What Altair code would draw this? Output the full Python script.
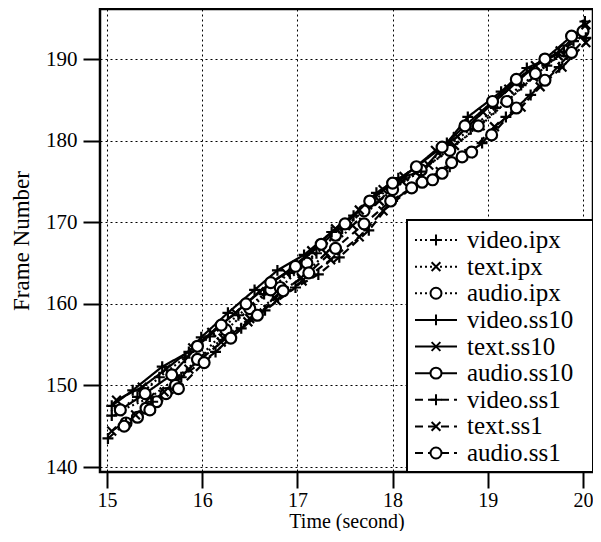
import altair as alt
import pandas as pd

series_order = ["video.ipx", "text.ipx", "audio.ipx",
                "video.ss10", "text.ss10", "audio.ss10",
                "video.ss1", "text.ss1", "audio.ss1"]

t_video_ss10 = [15.05, 15.27, 15.58, 15.86, 15.99, 16.27, 16.55, 16.79, 17.07, 17.36, 17.59, 17.83, 18.06, 18.3, 18.57, 18.79, 19.14, 19.41, 19.8, 20.02]
f_video_ss10 = [147.5, 149.4, 152.3, 154.1, 155.9, 158.9, 161.7, 164.1, 166.0, 168.8, 170.8, 173.6, 175.4, 176.2, 179.7, 182.9, 186.0, 188.9, 190.9, 194.6]

t_text_ss10 = [15.1, 15.37, 15.62, 15.9, 16.1, 16.35, 16.6, 16.88, 17.15, 17.4, 17.65, 17.9, 18.12, 18.45, 18.68, 18.95, 19.22, 19.5, 19.76, 20.03]
f_text_ss10 = [148.2, 149.8, 152.0, 154.6, 156.5, 158.9, 161.5, 163.8, 166.5, 169.2, 171.5, 174.0, 175.6, 178.8, 180.5, 183.5, 186.3, 189.2, 191.0, 194.2]

t_audio_ss10 = [15.14, 15.4, 15.68, 15.95, 16.2, 16.46, 16.72, 16.98, 17.25, 17.5, 17.76, 18.0, 18.25, 18.52, 18.76, 19.05, 19.3, 19.6, 19.88]
f_audio_ss10 = [147.0, 149.0, 151.3, 154.8, 157.4, 160.0, 162.6, 164.6, 167.3, 169.8, 172.6, 174.8, 176.8, 179.2, 181.8, 184.8, 187.5, 190.0, 192.8]

t_video_ipx = [15.05, 15.32, 15.55, 15.82, 16.08, 16.38, 16.65, 16.92, 17.2, 17.47, 17.73, 18.0, 18.28, 18.5, 18.82, 19.08, 19.35, 19.62, 19.9]
f_video_ipx = [146.3, 148.6, 151.0, 153.4, 156.0, 158.6, 161.2, 163.8, 166.2, 169.2, 171.8, 174.6, 176.0, 178.6, 181.4, 184.0, 186.8, 189.2, 192.2]

t_text_ipx = [15.12, 15.45, 15.72, 15.98, 16.22, 16.5, 16.76, 17.04, 17.3, 17.58, 17.86, 18.1, 18.38, 18.65, 18.92, 19.2, 19.48, 19.74, 20.0]
f_text_ipx = [146.8, 148.5, 150.8, 153.4, 155.8, 158.2, 160.8, 163.2, 166.2, 169.6, 172.6, 175.0, 177.0, 179.4, 181.8, 184.8, 187.8, 190.4, 193.0]

t_audio_ipx = [15.2, 15.32, 15.41, 15.52, 15.62, 15.72, 15.95, 16.25, 16.5, 16.72, 16.82, 17.1, 17.4, 17.7, 18.0, 18.3, 18.6, 18.9, 19.2, 19.5, 19.8, 20.0]
f_audio_ipx = [145.4, 146.1, 147.2, 148.0, 149.0, 150.0, 153.2, 156.8, 159.4, 161.7, 162.0, 165.0, 168.4, 171.4, 174.0, 176.4, 178.8, 181.8, 184.8, 188.2, 191.0, 193.4]

t_video_ss1 = [15.01, 15.2, 15.48, 15.78, 16.14, 16.41, 16.66, 16.98, 17.22, 17.44, 17.75, 18.0, 18.3, 18.6, 18.94, 19.19, 19.45, 19.75, 20.03]
f_video_ss1 = [143.5, 145.4, 148.0, 151.0, 154.1, 157.0, 159.2, 162.0, 163.6, 165.7, 169.0, 172.6, 175.0, 176.8, 179.7, 182.9, 185.6, 189.0, 192.6]

t_text_ss1 = [15.05, 15.3, 15.6, 15.86, 16.2, 16.48, 16.78, 17.05, 17.35, 17.65, 17.9, 18.2, 18.5, 18.8, 19.07, 19.35, 19.55, 19.78, 20.03]
f_text_ss1 = [144.4, 146.4, 149.2, 152.0, 155.3, 157.8, 160.4, 162.8, 165.4, 168.2, 171.4, 174.2, 176.2, 178.4, 181.7, 184.1, 186.6, 189.0, 192.0]

t_audio_ss1 = [15.18, 15.45, 15.75, 16.02, 16.3, 16.58, 16.85, 17.12, 17.4, 17.7, 17.98, 18.2, 18.31, 18.42, 18.52, 18.62, 18.73, 18.83, 19.04, 19.3, 19.6, 19.88]
f_audio_ss1 = [145.0, 147.0, 149.6, 152.8, 155.8, 158.6, 161.6, 163.8, 166.8, 169.8, 172.6, 174.2, 174.9, 175.2, 176.0, 177.3, 178.0, 178.6, 180.7, 184.0, 187.4, 190.8]

x_ticks = [15, 16, 17, 18, 19, 20]
y_ticks = [140, 150, 160, 170, 180, 190]

data_map = {
    "video.ipx": (t_video_ipx, f_video_ipx),
    "text.ipx": (t_text_ipx, f_text_ipx),
    "audio.ipx": (t_audio_ipx, f_audio_ipx),
    "video.ss10": (t_video_ss10, f_video_ss10),
    "text.ss10": (t_text_ss10, f_text_ss10),
    "audio.ss10": (t_audio_ss10, f_audio_ss10),
    "video.ss1": (t_video_ss1, f_video_ss1),
    "text.ss1": (t_text_ss1, f_text_ss1),
    "audio.ss1": (t_audio_ss1, f_audio_ss1),
}

rows = []
for name in series_order:
    ts, fs = data_map[name]
    media, method = name.split(".")
    for t, f in zip(ts, fs):
        rows.append({"series": name, "media": media, "method": method, "t": t, "f": f})
df = pd.DataFrame(rows)

leg = pd.DataFrame({
    "series": series_order,
    "media": [s.split(".")[0] for s in series_order],
    "method": [s.split(".")[1] for s in series_order],
    "idx": list(range(len(series_order))),
})

PLUS = "M-1,0L1,0M0,-1L0,1"
XMARK = "M-0.8,-0.8L0.8,0.8M-0.8,0.8L0.8,-0.8"

dash_scale = alt.Scale(domain=["ipx", "ss10", "ss1"], range=[[2, 3], [1, 0], [8, 5]])
shape_scale = alt.Scale(domain=["video", "text", "audio"], range=[PLUS, XMARK, "circle"])

xscale = alt.Scale(domain=[14.9265, 20.105], nice=False, zero=False)
yscale = alt.Scale(domain=[139.39, 196.13], nice=False, zero=False)

xenc = alt.X("t:Q", scale=xscale, title="Time (second)",
             axis=alt.Axis(values=x_ticks, format="d", titlePadding=1,
                           tickSize=16, labelPadding=2, labelFontSize=20, titleFontSize=20,
                           titleColor="black", labelColor="black"))
yenc = alt.Y("f:Q", scale=yscale, title="Frame Number",
             axis=alt.Axis(values=y_ticks, format="d", titlePadding=12,
                           tickSize=17, labelPadding=6, labelFontSize=21, titleFontSize=23,
                           titleColor="black", labelColor="black"))

lines = alt.Chart(df).mark_line(color="black", strokeWidth=2.2).encode(
    x=xenc, y=yenc, detail="series:N",
    strokeDash=alt.StrokeDash("method:N", scale=dash_scale, legend=None),
)
points = alt.Chart(df).mark_point(color="black", fill="white", strokeWidth=2.2, size=120, opacity=1).encode(
    x=xenc, y=yenc,
    shape=alt.Shape("media:N", scale=shape_scale, legend=None),
)
data_layer = alt.layer(lines, points)

legend_box = alt.Chart(pd.DataFrame({"k": [0]})).mark_rect(
    fill="white", stroke="black", strokeWidth=2
).encode(x=alt.value(307), x2=alt.value(493), y=alt.value(211), y2=alt.value(463))

ly = alt.Y("idx:Q", scale=alt.Scale(domain=[0, 8], range=[231, 444]), axis=None)
leg_rule = alt.Chart(leg).mark_rule(color="black", strokeWidth=2).encode(
    x=alt.value(315), x2=alt.value(357), y=ly,
    strokeDash=alt.StrokeDash("method:N", scale=dash_scale, legend=None),
)
leg_pt = alt.Chart(leg).mark_point(color="black", fill="white", strokeWidth=2, size=120, opacity=1).encode(
    x=alt.value(336), y=ly,
    shape=alt.Shape("media:N", scale=shape_scale, legend=None),
)
leg_txt = alt.Chart(leg).mark_text(align="left", baseline="middle", fontSize=25,
                                    font="Liberation Serif", color="black").encode(
    x=alt.value(367), y=ly, text="series:N",
)
legend_layer = alt.layer(leg_rule, leg_pt, leg_txt)

chart = alt.layer(data_layer, legend_box, legend_layer).resolve_scale(
    y="independent"
).properties(
    width=493, height=463, background="white",
    autosize=alt.AutoSizeParams(type="none"),
    padding={"left": 92, "top": 1, "right": 0, "bottom": 59},
).configure_view(
    stroke="black", strokeWidth=2.5
).configure_axis(
    labelFont="Liberation Serif", titleFont="Liberation Serif",
    titleFontWeight="normal",
    labelColor="black", titleColor="black",
    tickColor="black", tickWidth=2,
    domain=False, grid=True, gridColor="black", gridDash=[2, 3],
    gridOpacity=1, gridWidth=1,
)

chart.save("out.html", embed_options={"renderer": "svg", "actions": False})
